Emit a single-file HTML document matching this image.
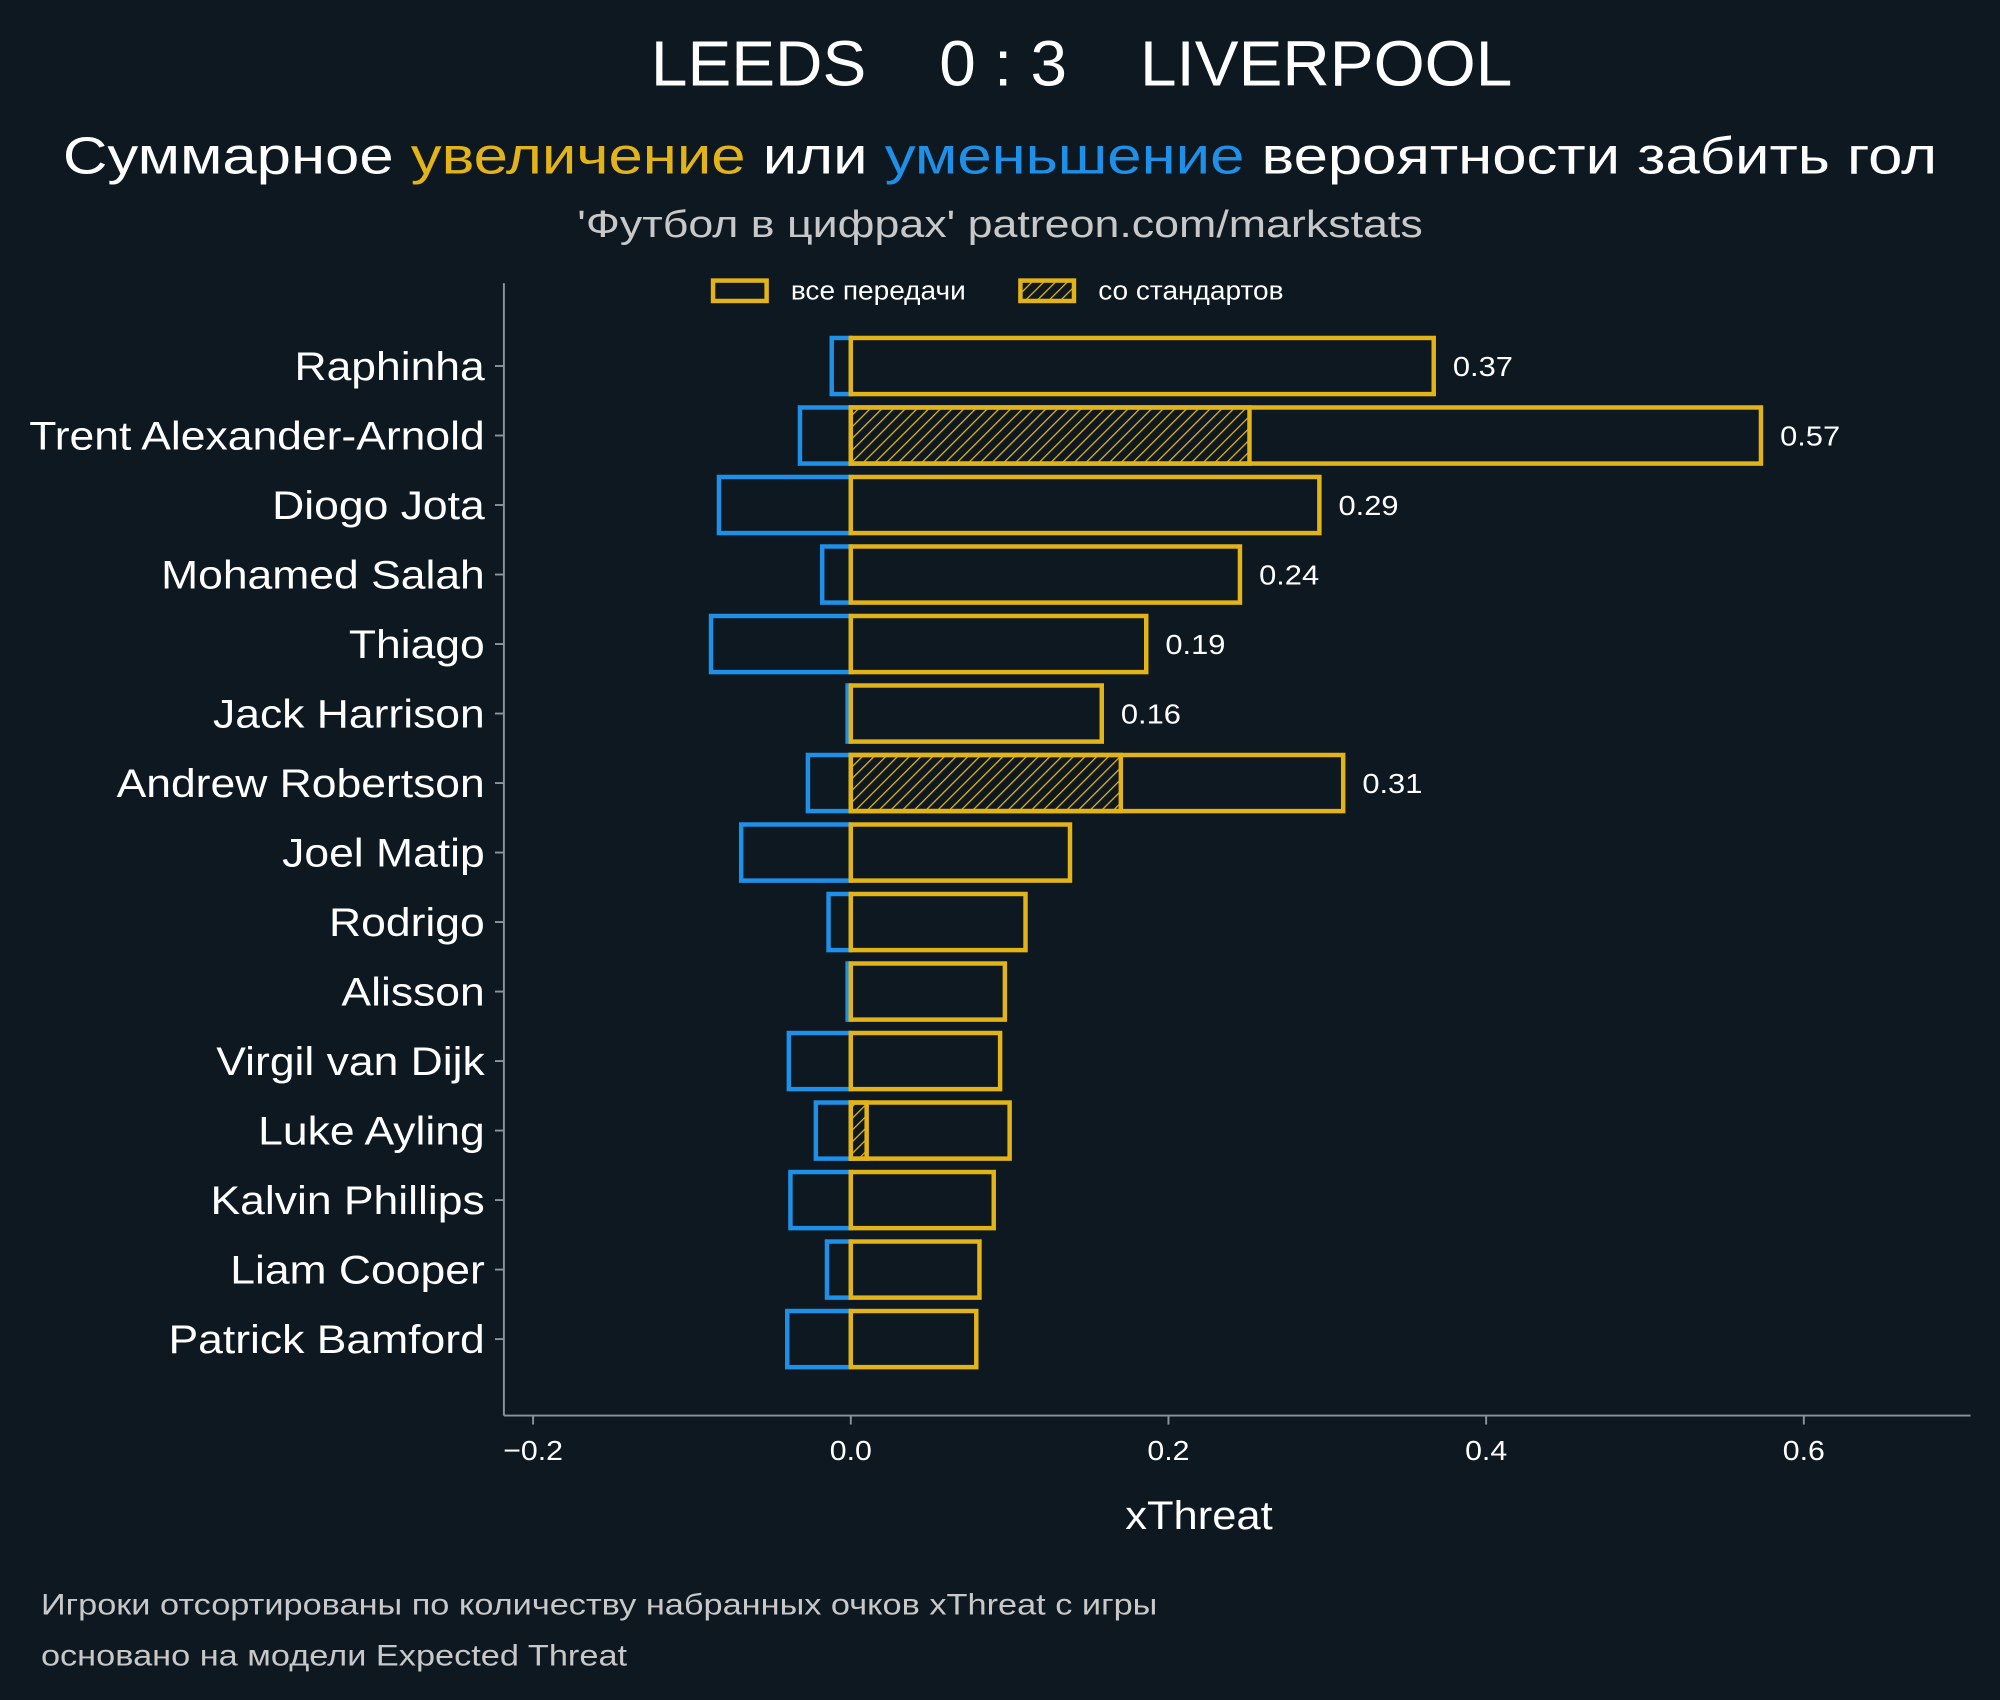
<!DOCTYPE html>
<html><head><meta charset="utf-8"><style>
html,body{margin:0;padding:0;background:#0e1821;}
svg{display:block}
text{font-family:"Liberation Sans","DejaVu Sans",sans-serif;}
</style></head><body>
<svg id="chart" width="2000" height="1700" viewBox="0 0 1568 1333" xmlns="http://www.w3.org/2000/svg">
<defs>
<pattern id="hatch" patternUnits="userSpaceOnUse" width="6.5" height="6.5" patternTransform="rotate(45)">
<line x1="0" y1="0" x2="0" y2="6.5" stroke="#e2b418" stroke-width="2"/>
</pattern>
</defs>
<rect width="1568" height="1333" fill="#0e1821"/>
<text x="848" y="67" fill="#ffffff" font-size="50" text-anchor="middle" data-scale="1.03" xml:space="preserve">LEEDS    0 : 3    LIVERPOOL</text>
<text x="784" y="136" fill="#ffffff" font-size="41" text-anchor="middle" data-scale="1.18">Суммарное <tspan fill="#e2b418">увеличение</tspan> или <tspan fill="#1e90e8">уменьшение</tspan> вероятности забить гол</text>
<text x="784" y="186" fill="#c8c8c8" font-size="30" text-anchor="middle" data-scale="1.17">'Футбол в цифрах' patreon.com/markstats</text>
<g>
<rect x="559" y="220" width="42" height="16" fill="none" stroke="#e2b418" stroke-width="3.5"/>
<text x="620" y="235" fill="#ffffff" font-size="20" data-scale="1.1">все передачи</text>
<rect x="800" y="220" width="42" height="16" fill="url(#hatch)" stroke="#e2b418" stroke-width="3.5"/>
<text x="861" y="235" fill="#ffffff" font-size="20" data-scale="1.1">со стандартов</text>
</g>
<g id="plot"></g>
<text x="940" y="1199" fill="#ffffff" font-size="31" text-anchor="middle" data-scale="1.1">xThreat</text>
<text x="32" y="1266" fill="#c8c8c8" font-size="23" data-scale="1.17">Игроки отсортированы по количеству набранных очков xThreat с игры</text>
<text x="32" y="1306" fill="#c8c8c8" font-size="23" data-scale="1.17">основано на модели Expected Threat</text>
</svg>
<script>
const players = ["Raphinha","Trent Alexander-Arnold","Diogo Jota","Mohamed Salah","Thiago","Jack Harrison","Andrew Robertson","Joel Matip","Rodrigo","Alisson","Virgil van Dijk","Luke Ayling","Kalvin Phillips","Liam Cooper","Patrick Bamford"];
const positive = [0.367,0.573,0.295,0.245,0.186,0.158,0.310,0.138,0.110,0.097,0.094,0.100,0.090,0.081,0.079];
const setPieces = [0,0.251,0,0,0,0,0.170,0,0,0,0,0.010,0,0,0];
const negative = [-0.012,-0.032,-0.083,-0.018,-0.088,-0.002,-0.027,-0.069,-0.014,-0.002,-0.039,-0.022,-0.038,-0.015,-0.040];
const valueLabels = ["0.37","0.57","0.29","0.24","0.19","0.16","0.31"];
const xTicks = [-0.2,0,0.2,0.4,0.6];
const xTickLabels = ["\u22120.2","0.0","0.2","0.4","0.6"];

const NS="http://www.w3.org/2000/svg";
const g=document.getElementById('plot');
const x=v=>667+v*1245.5;
const y=i=>287+i*54.5;
const barH=44;
function mk(tag,attrs){const e=document.createElementNS(NS,tag);for(const k in attrs)e.setAttribute(k,attrs[k]);g.appendChild(e);return e;}
const YEL="#e2b418",BLU="#1e90e8";
players.forEach((p,i)=>{
  const cy=y(i);
  let n=mk('rect',{x:x(negative[i]),y:cy-barH/2,width:Math.max(x(0)-x(negative[i]),0.5),height:barH,fill:'none',stroke:BLU,'stroke-width':3.5});
  
  
  if(setPieces[i]>0){
    let h=mk('rect',{x:x(0),y:cy-barH/2,width:x(setPieces[i])-x(0),height:barH,fill:'url(#hatch)',stroke:YEL,'stroke-width':3.5});
    
    
  }
  let b=mk('rect',{x:x(0),y:cy-barH/2,width:x(positive[i])-x(0),height:barH,fill:'none',stroke:YEL,'stroke-width':3.5});
  
  
  if(i<valueLabels.length){
    let t=mk('text',{x:x(positive[i])+15,y:cy+8,fill:'#ffffff','font-size':22,'data-scale':1.1});
    t.textContent=valueLabels[i];
    
    
  }
  let tk=mk('line',{x1:388,x2:395,y1:cy,y2:cy,stroke:'#8a949c','stroke-width':1.5});
  
  
  let l=mk('text',{x:380,y:cy+11,fill:'#ffffff','font-size':31,'text-anchor':'end','data-scale':1.125});
  l.textContent=p;
  
  
});
xTicks.forEach((v,i)=>{
  let tk=mk('line',{x1:x(v),x2:x(v),y1:1110,y2:1117,stroke:'#8a949c','stroke-width':1.5});
  
  
  let t=mk('text',{x:x(v),y:1145,fill:'#ffffff','font-size':22,'text-anchor':'middle','data-scale':1.08});
  t.textContent=xTickLabels[i];
  
  
});
let ls=mk('line',{x1:395,x2:395,y1:222,y2:1110,stroke:'#8a949c','stroke-width':1.5});


let bs=mk('line',{x1:395,x2:1545,y1:1110,y2:1110,stroke:'#8a949c','stroke-width':1.5});


document.querySelectorAll('text[data-scale]').forEach(t=>{
  const s=parseFloat(t.getAttribute('data-scale'));
  const w=t.getComputedTextLength();
  if(w>0){t.setAttribute('textLength',(w*s).toFixed(1));t.setAttribute('lengthAdjust','spacingAndGlyphs');}
});
</script>
</body></html>
